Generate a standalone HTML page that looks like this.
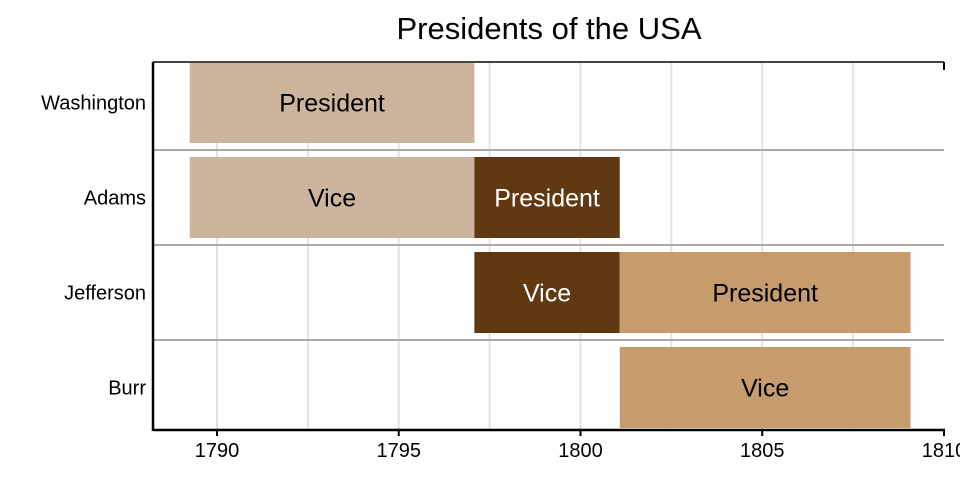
<!DOCTYPE html>
<html><head><meta charset="utf-8"><style>
body{margin:0;background:#fff;}
svg text{font-family:"Liberation Sans","DejaVu Sans",sans-serif;}
</style></head><body>
<svg id="chart" width="960" height="480" xmlns="http://www.w3.org/2000/svg">
<rect width="960" height="480" fill="#fff"/>
<text x="549" y="39" font-size="31" text-anchor="middle" fill="#000">Presidents of the USA</text>
<g id="grid"></g><g id="bars"></g><g id="axes"></g>
</svg>
<script>
const people = ["Washington","Adams","Jefferson","Burr"];
const taskRow = [0,1,1,2,2,3];
const taskLabel = ["President","Vice","President","Vice","President","Vice"];
const taskStart = [1789.25,1789.25,1797.08,1797.08,1801.08,1801.08];
const taskEnd = [1797.08,1797.08,1801.08,1801.08,1809.08,1809.08];
const taskColor = ["#cdb59d","#cdb59d","#603913","#603913","#c69c6d","#c69c6d"];
const taskTextColor = ["#000","#000","#fff","#fff","#000","#000"];
const xTicks = [1790,1795,1800,1805,1810];
const gridYears = [1790,1792.5,1795,1797.5,1800,1802.5,1805,1807.5];

const NS="http://www.w3.org/2000/svg";
const L=153,R=944,T=62,B=430,barH=81;
const x=v=>217+(v-1790)*36.35;
const sepY=i=>150+(i-1)*95;
const barY=i=>i===0?T:sepY(i)+7;
function mk(tag,attrs,parent){const e=document.createElementNS(NS,tag);for(const k in attrs)e.setAttribute(k,attrs[k]);parent.appendChild(e);return e;}
const grid=document.getElementById('grid'),bars=document.getElementById('bars'),axes=document.getElementById('axes');
gridYears.forEach(g=>{const l=mk('line',{x1:x(g),x2:x(g),y1:T,y2:B,stroke:'#e2e2e2','stroke-width':2},grid);

});
for(let i=1;i<people.length;i++){const l=mk('line',{x1:L,x2:R,y1:sepY(i),y2:sepY(i),stroke:'#aaa','stroke-width':2},grid);

}
people.forEach((p,i)=>{const t=mk('text',{x:146,y:barY(i)+barH/2+7,'font-size':20,'text-anchor':'end',fill:'#000'},axes);t.textContent=p;

});
taskLabel.forEach((lab,k)=>{const y0=barY(taskRow[k]);
const r=mk('rect',{x:x(taskStart[k]),y:y0,width:x(taskEnd[k])-x(taskStart[k]),height:barH,fill:taskColor[k]},bars);


const t=mk('text',{x:(x(taskStart[k])+x(taskEnd[k]))/2,y:y0+barH/2+9,'font-size':25,'text-anchor':'middle',fill:taskTextColor[k]},bars);t.textContent=lab;

});
const topBorder=mk('line',{x1:L,x2:R,y1:T,y2:T,stroke:'#444','stroke-width':2},axes);


const ya=mk('line',{x1:L,x2:L,y1:T,y2:B+1,stroke:'#000','stroke-width':2.5},axes);


const xa=mk('line',{x1:L,x2:R+1,y1:B,y2:B,stroke:'#000','stroke-width':2.5},axes);


xTicks.forEach(v=>{const tk=mk('line',{x1:x(v),x2:x(v),y1:B,y2:B+6,stroke:'#000','stroke-width':2},axes);


const t=mk('text',{x:x(v),y:B+27,'font-size':20,'text-anchor':'middle',fill:'#000'},axes);t.textContent=v;

});
const rt=mk('line',{x1:R,x2:R,y1:T,y2:T+8,stroke:'#000','stroke-width':2},axes);


</script>
</body></html>
